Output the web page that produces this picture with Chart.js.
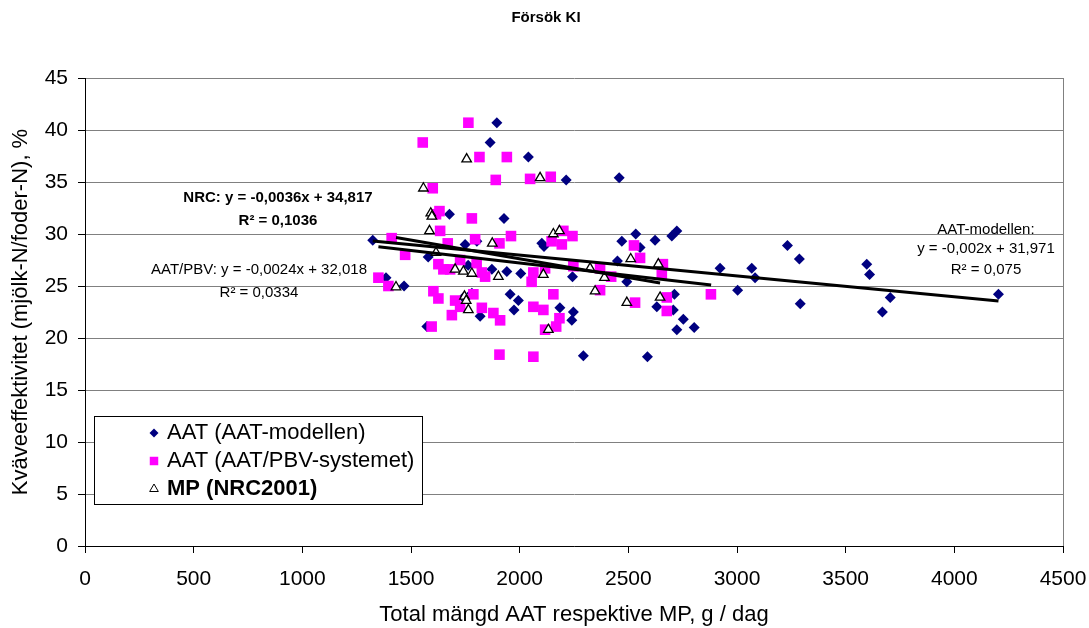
<!DOCTYPE html>
<html>
<head>
<meta charset="utf-8">
<script src="https://cdn.jsdelivr.net/npm/chart.js@4"></script>
<style>
html, body { margin: 0; padding: 0; background: #fff; }
</style>
</head>
<body>
<canvas id="scatter" width="1089" height="628"></canvas>
<script>
// values: [total AAT/MP g/dag, kväveeffektivitet %]
const aatModellen = [
    [1324, 29.4], [1385, 25.8], [1468, 25.0], [1573, 21.1], [1579, 27.8], [1677, 31.9], [1749, 29.0], [1803, 29.3],
    [1763, 27.0], [1872, 26.6], [1941, 26.4], [2005, 26.2], [1741, 23.9], [1780, 24.3], [1956, 24.2], [1994, 23.6],
    [1974, 22.7], [1818, 22.1], [2102, 29.1], [2112, 28.8], [2185, 22.9], [2470, 29.3], [2623, 29.4], [2554, 28.7],
    [2450, 27.4], [2922, 26.7], [2243, 25.9], [2493, 25.4], [3003, 24.6], [2712, 24.2], [2631, 23.0], [2707, 22.7],
    [2247, 22.5], [2240, 21.7], [2753, 21.8], [2803, 21.0], [2723, 20.8], [2293, 18.3], [2588, 18.2], [3068, 26.7],
    [3083, 25.8], [3232, 28.9], [3287, 27.6], [3291, 23.3], [3597, 27.1], [3610, 26.1], [3705, 23.9], [3669, 22.5],
    [4203, 24.2], [1895, 40.7], [1864, 38.8], [2040, 37.4], [1928, 31.5], [2214, 35.2], [2458, 35.4], [2534, 30.0],
    [2700, 29.8], [2723, 30.3]
]
const aatPbv = [
    [1764, 40.7], [1554, 38.8], [1815, 37.4], [1941, 37.4], [1890, 35.2], [2048, 35.3], [2143, 35.5], [1600, 34.4],
    [1631, 32.2], [1615, 31.9], [1780, 31.5], [1634, 30.3], [1411, 29.6], [1669, 29.1], [1795, 29.5], [1960, 29.8],
    [1907, 29.1], [2147, 29.3], [2201, 30.3], [2243, 29.8], [2194, 29.0], [1473, 28.0], [1626, 27.1], [1649, 26.6],
    [1680, 26.6], [1726, 27.5], [1802, 27.2], [1826, 26.3], [1841, 25.9], [2063, 26.3], [2055, 25.4], [1350, 25.8],
    [1396, 25.0], [1603, 24.5], [1626, 23.8], [1703, 23.6], [1726, 23.0], [1787, 24.2], [1688, 22.2], [1826, 22.9],
    [1879, 22.4], [1910, 21.7], [1595, 21.1], [2063, 23.0], [2109, 22.7], [2117, 20.8], [2155, 24.2], [2168, 21.1],
    [2183, 21.9], [1907, 18.4], [2063, 18.2], [2526, 28.9], [2554, 27.7], [2117, 26.7], [2247, 26.9], [2370, 26.7],
    [2421, 25.9], [2659, 27.1], [2654, 26.1], [2370, 24.6], [2531, 23.4], [2677, 23.9], [2677, 22.6], [2880, 24.2]
]
const mpNrc = [
    [1756, 37.2], [2094, 35.4], [1557, 34.4], [1591, 32.0], [1596, 31.7], [1585, 30.3], [1874, 29.1], [2155, 30.0],
    [2183, 30.3], [1615, 28.2], [1703, 26.6], [1741, 26.4], [1780, 26.2], [1902, 25.9], [2109, 26.1], [1431, 24.9],
    [1746, 24.0], [1754, 23.6], [1764, 22.7], [2132, 20.8], [2511, 27.6], [2324, 26.7], [2390, 25.8], [2638, 27.1],
    [2347, 24.5], [2493, 23.4], [2646, 23.9]
]
// trendline end points
const trendAat = [[1324, 29.32], [4203, 23.56]]
const trendPbv = [[1350, 28.78], [2881, 25.10]]
const trendNrc = [[1431, 29.67], [2646, 25.29]]

const seriesNames = ['AAT (AAT-modellen)', 'AAT (AAT/PBV-systemet)', 'MP (NRC2001)']
const xTitle = 'Total mängd AAT respektive MP, g / dag'
const yTitle = 'Kväveeffektivitet (mjölk-N/foder-N), %'
const chartTitle = 'Försök KI'

const FONT = "'Liberation Sans', Arial, sans-serif"

function pts(arr) {
    return arr.map(function (p) { return {x: p[0], y: p[1]} })
}

function trend(arr) {
    return {
        data: pts(arr),
        showLine: true,
        borderColor: '#000',
        borderWidth: 3,
        pointRadius: 0,
        order: 0
    }
}

const extras = {
    id: 'extras',
    beforeDatasetsDraw: function (chart) {
        const ctx = chart.ctx, a = chart.chartArea
        ctx.save()
        ctx.strokeStyle = '#808080'
        ctx.lineWidth = 1
        ctx.beginPath()
        ctx.moveTo(a.right + 0.5, a.top)
        ctx.lineTo(a.right + 0.5, a.bottom)
        ctx.stroke()
        ctx.restore()
    },
    afterDraw: function (chart) {
        const ctx = chart.ctx
        ctx.save()
        ctx.fillStyle = '#000'
        ctx.textAlign = 'center'
        ctx.textBaseline = 'middle'

        ctx.font = 'bold 15px ' + FONT
        ctx.fillText(chartTitle, 546, 18)

        // trendline labels
        ctx.fillText('NRC: y = -0,0036x + 34,817', 278, 198)
        ctx.fillText('R² = 0,1036', 278, 221)
        ctx.font = '15px ' + FONT
        ctx.fillText('AAT/PBV: y = -0,0024x + 32,018', 259, 270)
        ctx.fillText('R² = 0,0334', 259, 293)
        ctx.fillText('AAT-modellen:', 986, 230)
        ctx.fillText('y = -0,002x + 31,971', 986, 249)
        ctx.fillText('R² = 0,075', 986, 270)

        // legend box
        ctx.fillStyle = '#fff'
        ctx.fillRect(94, 416, 328, 88)
        ctx.strokeStyle = '#000'
        ctx.lineWidth = 1
        ctx.strokeRect(94.5, 416.5, 328, 88)

        const rows = [433, 461, 489]
        const styles = [
            {pointStyle: 'rectRot', radius: 4.5, backgroundColor: '#000080', borderWidth: 0},
            {pointStyle: 'rect', radius: 6, backgroundColor: '#ff00ff', borderWidth: 0},
            {pointStyle: 'triangle', radius: 5, backgroundColor: '#fff', borderColor: '#000', borderWidth: 1}
        ]
        ctx.textAlign = 'left'
        for (let i = 0; i < 3; i++) {
            ctx.save()
            ctx.fillStyle = styles[i].backgroundColor
            ctx.strokeStyle = styles[i].borderColor || styles[i].backgroundColor
            ctx.lineWidth = styles[i].borderWidth
            Chart.helpers.drawPoint(ctx, styles[i], 154, rows[i])
            ctx.restore()
            ctx.fillStyle = '#000'
            ctx.font = (i === 2 ? 'bold ' : '') + '22px ' + FONT
            ctx.fillText(seriesNames[i], 167, rows[i])
        }
        ctx.restore()
    }
}

const ctx = document.getElementById('scatter')
const chart = new Chart(ctx, {
    type: 'scatter',
    data: {
        datasets: [
            {
                label: seriesNames[0],
                data: pts(aatModellen),
                pointStyle: 'rectRot',
                pointRadius: 5.5,
                backgroundColor: '#000080',
                borderWidth: 0,
                order: 5
            },
            {
                label: seriesNames[1],
                data: pts(aatPbv),
                pointStyle: 'rect',
                pointRadius: 7.5,
                backgroundColor: '#ff00ff',
                borderWidth: 0,
                order: 4
            },
            {
                label: seriesNames[2],
                data: pts(mpNrc),
                pointStyle: 'triangle',
                pointRadius: 5.5,
                backgroundColor: '#ffffff',
                borderColor: '#000000',
                borderWidth: 1.3,
                order: 3
            },
            trend(trendAat),
            trend(trendPbv),
            trend(trendNrc)
        ]
    },
    options: {
        responsive: false,
        animation: false,
        events: [],
        layout: {
            padding: {left: 0, right: 26, top: 78, bottom: 0}
        },
        plugins: {
            legend: {display: false},
            title: {display: false},
            tooltip: {enabled: false}
        },
        scales: {
            x: {
                type: 'linear',
                min: 0,
                max: 4500,
                afterFit: function (s) {
                    s.height = 82
                    s.paddingLeft = 0
                    s.paddingRight = 0
                },
                ticks: {
                    stepSize: 500,
                    color: '#000',
                    padding: 14,
                    maxRotation: 0,
                    callback: function (v) { return String(v) },
                    font: {family: FONT, size: 21}
                },
                grid: {
                    drawOnChartArea: false,
                    tickLength: 7,
                    tickColor: '#000'
                },
                border: {color: '#000', width: 1},
                title: {
                    display: true,
                    text: xTitle,
                    color: '#000',
                    padding: {top: 0, bottom: 0},
                    font: {family: FONT, size: 22}
                }
            },
            y: {
                type: 'linear',
                min: 0,
                max: 45,
                afterFit: function (s) { s.width = 85 },
                ticks: {
                    stepSize: 5,
                    color: '#000',
                    padding: 10,
                    font: {family: FONT, size: 21}
                },
                grid: {
                    color: '#808080',
                    lineWidth: 1,
                    tickLength: 7,
                    tickColor: '#000'
                },
                border: {color: '#000', width: 1},
                title: {
                    display: true,
                    text: yTitle,
                    color: '#000',
                    padding: {top: 8, bottom: 8},
                    font: {family: FONT, size: 22}
                }
            }
        }
    },
    plugins: [extras]
});
</script>
</body>
</html>
